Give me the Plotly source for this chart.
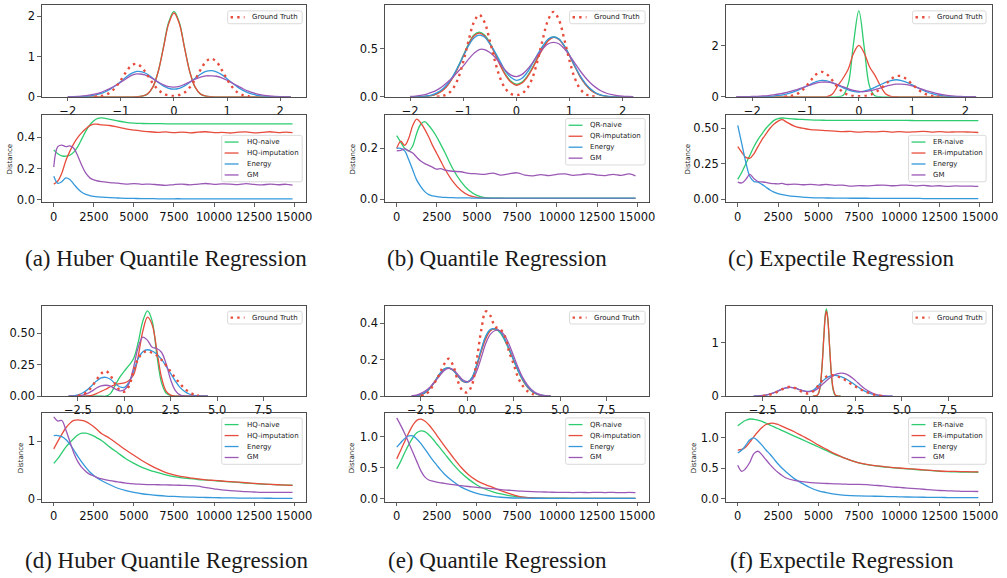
import numpy as np
import plotly.graph_objects as go

W, H = 1007, 578
GREEN, RED, BLUE, PURPLE = "#2ecc71", "#e74c3c", "#3498db", "#9b59b6"
N = None

# ---------------- density grids ----------------
X_TOP = np.round(np.arange(-2.0, 2.21, 0.1), 2)      # panels a, b
X_TOP_C = np.round(np.arange(-2.3, 2.21, 0.1), 2)    # panel c
X_BOT = np.round(np.arange(-3.0, 4.51, 0.25), 2)     # panels d, e, f
F_PEAK_X = [0.2, 0.4, 0.5, 0.6, 0.7, 0.8, 0.87, 0.93, 1.0, 1.1, 1.2, 1.3, 1.4, 1.5, 1.7]

# ---------------- (a) densities ----------------
A_GT = [N, N, N, N, N, 0.004, 0.015, 0.044, 0.11, 0.235, 0.415, 0.62, 0.776, 0.817, 0.72, 0.54,
        0.34, 0.18, 0.08, 0.032, 0.022, 0.045, 0.108, 0.237, 0.435, 0.67, 0.87, 0.95, 0.87, 0.67,
        0.435, 0.237, 0.108, 0.042, 0.014, 0.004, N, N, N, N, N, N, N]
A_NAIVE = [0]*13 + [0.002, 0.014, 0.067, 0.23, 0.61, 1.22, 1.85, 2.12, 1.85, 1.22, 0.61, 0.23,
                    0.067, 0.014, 0.002] + [0]*15
A_IMP = [0]*13 + [0.003, 0.016, 0.072, 0.24, 0.61, 1.2, 1.81, 2.08, 1.82, 1.21, 0.61, 0.24,
                  0.07, 0.016, 0.003] + [0]*15
A_EN = [0, 0.002, 0.005, 0.01, 0.02, 0.04, 0.07, 0.12, 0.19, 0.28, 0.38, 0.49, 0.58, 0.63, 0.62,
        0.56, 0.46, 0.36, 0.27, 0.21, 0.19, 0.21, 0.27, 0.36, 0.46, 0.56, 0.63, 0.65, 0.62, 0.55,
        0.45, 0.34, 0.24, 0.16, 0.1, 0.06, 0.03, 0.015, 0.007, 0.003, 0.001, 0, 0]
A_GM = [0.003, 0.006, 0.012, 0.022, 0.04, 0.065, 0.1, 0.15, 0.21, 0.28, 0.36, 0.45, 0.53, 0.57,
        0.56, 0.52, 0.45, 0.37, 0.3, 0.25, 0.24, 0.26, 0.31, 0.37, 0.44, 0.49, 0.52, 0.52, 0.51,
        0.47, 0.41, 0.34, 0.27, 0.2, 0.14, 0.095, 0.06, 0.036, 0.02, 0.011, 0.006, 0.003, 0]

# ---------------- (b) densities ----------------
B_GT = [N, N, N, N, N, 0.002, 0.008, 0.028, 0.08, 0.187, 0.363, 0.582, 0.773, 0.85, 0.773, 0.582,
        0.363, 0.187, 0.08, 0.03, 0.017, 0.032, 0.085, 0.194, 0.376, 0.603, 0.8, 0.88, 0.8, 0.603,
        0.376, 0.194, 0.083, 0.029, 0.009, 0.002, N, N, N, N, N, N, N]
B_NAIVE = [0, 0, 0.002, 0.005, 0.012, 0.03, 0.065, 0.12, 0.2, 0.31, 0.43, 0.55, 0.64, 0.67, 0.64,
           0.56, 0.45, 0.33, 0.23, 0.16, 0.13, 0.15, 0.21, 0.3, 0.41, 0.51, 0.59, 0.62, 0.6, 0.53,
           0.43, 0.32, 0.21, 0.13, 0.07, 0.035, 0.015, 0.005, 0.002, 0, 0, 0, 0]
B_IMP = [0, 0, 0.002, 0.005, 0.012, 0.03, 0.06, 0.115, 0.195, 0.3, 0.42, 0.54, 0.63, 0.66, 0.63,
         0.55, 0.44, 0.32, 0.22, 0.15, 0.12, 0.14, 0.2, 0.29, 0.4, 0.5, 0.58, 0.615, 0.595, 0.525,
         0.425, 0.315, 0.21, 0.13, 0.07, 0.034, 0.014, 0.005, 0.002, 0, 0, 0, 0]
B_EN = [0, 0.001, 0.003, 0.008, 0.018, 0.04, 0.075, 0.13, 0.21, 0.31, 0.42, 0.53, 0.61, 0.64, 0.62,
        0.55, 0.46, 0.36, 0.26, 0.2, 0.17, 0.19, 0.25, 0.34, 0.44, 0.53, 0.6, 0.62, 0.6, 0.53,
        0.43, 0.32, 0.22, 0.14, 0.08, 0.04, 0.018, 0.007, 0.002, 0, 0, 0, 0]
B_GM = [0.003, 0.007, 0.014, 0.026, 0.045, 0.07, 0.105, 0.15, 0.2, 0.26, 0.32, 0.39, 0.45, 0.49,
        0.49, 0.46, 0.41, 0.34, 0.27, 0.225, 0.21, 0.23, 0.28, 0.35, 0.43, 0.5, 0.55, 0.565, 0.55,
        0.5, 0.43, 0.35, 0.27, 0.2, 0.14, 0.095, 0.06, 0.037, 0.022, 0.012, 0.006, 0.003, 0.001]

# ---------------- (c) densities ----------------
C_GT = [N]*9 + [0.006, 0.024, 0.074, 0.188, 0.386, 0.649, 0.884, 0.98, 0.884, 0.649, 0.386, 0.188,
                0.076, 0.032, 0.02, 0.03, 0.073, 0.162, 0.308, 0.497, 0.685, 0.81, 0.81, 0.685,
                0.497, 0.308, 0.162, 0.073, 0.028, 0.011] + [N]*7
C_NAIVE = [0]*19 + [0.003, 0.05, 0.5, 2.1, 3.38, 1.95, 0.42, 0.04, 0.002] + [0]*18
C_IMP = [0]*17 + [0.005, 0.1, 0.42, 0.72, 1.08, 1.7, 2.02, 1.72, 1.18, 0.85, 0.45, 0.12, 0.02,
                  0.002] + [0]*15
C_EN = [0, 0, 0.001, 0.002, 0.004, 0.008, 0.015, 0.03, 0.055, 0.09, 0.14, 0.21, 0.3, 0.4, 0.5, 0.6,
        0.645, 0.63, 0.56, 0.46, 0.36, 0.27, 0.21, 0.19, 0.22, 0.28, 0.37, 0.47, 0.57, 0.64, 0.67,
        0.64, 0.57, 0.47, 0.36, 0.26, 0.17, 0.11, 0.065, 0.035, 0.018, 0.008, 0.004, 0.002, 0.001, 0]
C_GM = [0.002, 0.004, 0.007, 0.012, 0.02, 0.033, 0.05, 0.075, 0.11, 0.15, 0.2, 0.26, 0.33, 0.4,
        0.47, 0.54, 0.575, 0.58, 0.55, 0.48, 0.4, 0.32, 0.25, 0.21, 0.2, 0.23, 0.28, 0.34, 0.41,
        0.46, 0.495, 0.5, 0.48, 0.43, 0.36, 0.29, 0.22, 0.16, 0.11, 0.075, 0.048, 0.03, 0.018,
        0.01, 0.005, 0.002]

# ---------------- (d) densities ----------------
D_GT = [N, N, 0.003, 0.012, 0.035, 0.075, 0.13, 0.18, 0.2, 0.165, 0.1, 0.05, 0.035, 0.08, 0.2, 0.3,
        0.345, 0.36, 0.345, 0.325, 0.29, 0.245, 0.195, 0.145, 0.1, 0.06, 0.032, 0.014, 0.005, N, N]
D_NAIVE = [0]*8 + [0.0, 0.02, 0.085, 0.15, 0.2, 0.245, 0.3, 0.43, 0.6, 0.68, 0.6, 0.33, 0.11,
                   0.025, 0.004, 0] + [0]*7
D_IMP = [0, 0, 0, 0, 0.002, 0.007, 0.02, 0.038, 0.055, 0.075, 0.09, 0.1, 0.105, 0.125, 0.17, 0.32,
         0.52, 0.63, 0.57, 0.37, 0.15, 0.04, 0.008, 0, 0, 0, 0, 0, 0, 0, 0]
D_EN = [0, 0.002, 0.01, 0.025, 0.05, 0.085, 0.12, 0.145, 0.15, 0.135, 0.1, 0.075, 0.07, 0.11, 0.2,
        0.3, 0.355, 0.37, 0.36, 0.335, 0.295, 0.24, 0.18, 0.12, 0.07, 0.037, 0.017, 0.006, 0.002,
        0, 0]
D_GM = [0, 0, 0.002, 0.008, 0.02, 0.04, 0.065, 0.082, 0.087, 0.08, 0.058, 0.042, 0.05, 0.1, 0.23,
        0.39, 0.47, 0.445, 0.39, 0.38, 0.35, 0.26, 0.13, 0.045, 0.01, 0, 0, 0, 0, 0, 0]

# ---------------- (e) densities ----------------
E_GT = [N, N, 0.002, 0.01, 0.035, 0.075, 0.12, 0.175, 0.205, 0.165, 0.08, 0.03, 0.02, 0.06, 0.19,
        0.36, 0.465, 0.44, 0.38, 0.37, 0.335, 0.245, 0.175, 0.1, 0.055, 0.027, 0.012, 0.004, N, N, N]
E_NAIVE = [0, 0.002, 0.008, 0.02, 0.045, 0.08, 0.12, 0.148, 0.155, 0.14, 0.11, 0.082, 0.076, 0.1,
           0.165, 0.25, 0.325, 0.362, 0.367, 0.35, 0.31, 0.255, 0.195, 0.135, 0.085, 0.048, 0.024,
           0.011, 0.004, 0.001, 0]
E_IMP = [0, 0.002, 0.008, 0.02, 0.044, 0.078, 0.118, 0.146, 0.154, 0.14, 0.11, 0.082, 0.075, 0.098,
         0.16, 0.243, 0.315, 0.358, 0.37, 0.357, 0.318, 0.262, 0.2, 0.14, 0.088, 0.05, 0.025, 0.011,
         0.004, 0.001, 0]
E_EN = [0, 0.002, 0.009, 0.022, 0.046, 0.08, 0.12, 0.148, 0.155, 0.141, 0.111, 0.083, 0.076, 0.1,
        0.168, 0.255, 0.33, 0.366, 0.37, 0.355, 0.315, 0.26, 0.2, 0.14, 0.09, 0.052, 0.027, 0.012,
        0.005, 0.002, 0]
E_GM = [0.002, 0.006, 0.015, 0.03, 0.05, 0.08, 0.11, 0.14, 0.152, 0.145, 0.118, 0.09, 0.08, 0.09,
        0.135, 0.21, 0.29, 0.34, 0.36, 0.36, 0.335, 0.285, 0.22, 0.155, 0.1, 0.06, 0.032, 0.015,
        0.006, 0.002, 0]

# ---------------- (f) densities ----------------
F_GT = [N, N, 0.004, 0.015, 0.04, 0.075, 0.12, 0.16, 0.175, 0.15, 0.1, 0.06, 0.05, 0.1, 0.2, 0.31,
        0.38, 0.39, 0.37, 0.34, 0.29, 0.23, 0.18, 0.13, 0.09, 0.055, 0.028, 0.01, 0.003, N, N]
F_NAIVE = [0, 0.007, 0.044, 0.19, 0.58, 1.17, 1.52, 1.63, 1.48, 0.93, 0.39, 0.11, 0.02, 0.003, 0]
F_IMP = [0, 0.01, 0.05, 0.2, 0.58, 1.14, 1.48, 1.59, 1.46, 0.95, 0.42, 0.13, 0.03, 0.005, 0]
F_EN = [0, 0.003, 0.01, 0.025, 0.05, 0.085, 0.125, 0.155, 0.165, 0.15, 0.12, 0.095, 0.09, 0.12, 0.2,
        0.29, 0.355, 0.385, 0.385, 0.36, 0.32, 0.265, 0.205, 0.145, 0.095, 0.055, 0.03, 0.014,
        0.006, 0.002, 0]
F_GM = [0.002, 0.005, 0.012, 0.028, 0.052, 0.085, 0.125, 0.155, 0.165, 0.15, 0.12, 0.095, 0.085,
        0.1, 0.15, 0.23, 0.31, 0.375, 0.415, 0.43, 0.41, 0.36, 0.29, 0.21, 0.14, 0.085, 0.045, 0.02,
        0.008, 0.002, 0]

# ---------------- distance curves (training iterations) ----------------
ITERS = [0, 250, 500, 750, 1000, 1250, 1500, 1750, 2000, 2250, 2500, 2750, 3000,
         3500, 4000, 4500, 5000, 5500, 6000, 6500, 7000, 7500, 8000, 8500, 9000, 9500, 10000,
         10500, 11000, 11500, 12000, 12500, 13000, 13500, 14000, 14500, 14900]

AD_NAIVE = [0.32, 0.295, 0.282, 0.279, 0.285, 0.305, 0.34, 0.39, 0.44, 0.48, 0.507, 0.522, 0.525,
            0.516, 0.505, 0.496, 0.491, 0.489, 0.488, 0.488] + [0.487]*17
AD_IMP = [0.10, 0.12, 0.17, 0.25, 0.31, 0.36, 0.40, 0.43, 0.455, 0.475, 0.485, 0.484, 0.48,
          0.476, 0.466, 0.455, 0.447, 0.44, 0.436, 0.432, 0.435, 0.43, 0.434, 0.429, 0.433, 0.436,
          0.43, 0.432, 0.428, 0.433, 0.435, 0.429, 0.432, 0.436, 0.43, 0.434, 0.43]
AD_EN = [0.15, 0.105, 0.115, 0.14, 0.13, 0.10, 0.07, 0.048, 0.034, 0.026, 0.021, 0.018, 0.016,
         0.013, 0.011, 0.009, 0.008, 0.007, 0.007, 0.006, 0.006, 0.006, 0.006] + [0.005]*14
AD_GM = [0.21, 0.34, 0.35, 0.34, 0.345, 0.33, 0.28, 0.22, 0.17, 0.14, 0.127, 0.12, 0.116,
         0.11, 0.106, 0.1, 0.103, 0.099, 0.1, 0.096, 0.092, 0.097, 0.1, 0.095, 0.1, 0.104, 0.098,
         0.101, 0.1, 0.097, 0.103, 0.098, 0.095, 0.1, 0.096, 0.099, 0.094]

BD_NAIVE = [0.25, 0.225, 0.2, 0.19, 0.21, 0.26, 0.295, 0.305, 0.29, 0.27, 0.245, 0.215, 0.185,
            0.12, 0.07, 0.035, 0.015, 0.006, 0.004, 0.004] + [0.003]*17
BD_IMP = [0.2, 0.228, 0.212, 0.24, 0.29, 0.315, 0.3, 0.275, 0.245, 0.21, 0.18, 0.15, 0.12,
          0.07, 0.035, 0.015, 0.007, 0.004] + [0.003]*19
BD_EN = [0.2, 0.2, 0.19, 0.155, 0.115, 0.075, 0.05, 0.03, 0.018, 0.013, 0.01, 0.008, 0.007,
         0.006, 0.005, 0.005] + [0.004]*21
BD_GM = [0.19, 0.192, 0.198, 0.19, 0.182, 0.165, 0.15, 0.14, 0.133, 0.125, 0.118, 0.12, 0.115,
         0.11, 0.108, 0.102, 0.1, 0.098, 0.103, 0.095, 0.1, 0.104, 0.095, 0.092, 0.097, 0.093,
         0.098, 0.1, 0.094, 0.097, 0.1, 0.095, 0.093, 0.098, 0.094, 0.1, 0.092]

CD_NAIVE = [0.14, 0.19, 0.25, 0.31, 0.37, 0.42, 0.46, 0.5, 0.53, 0.555, 0.567, 0.572, 0.57,
            0.565, 0.562, 0.559, 0.557, 0.556] + [0.555]*10 + [0.554]*9
CD_IMP = [0.37, 0.33, 0.295, 0.29, 0.32, 0.37, 0.42, 0.46, 0.5, 0.53, 0.55, 0.56, 0.545,
          0.515, 0.5, 0.49, 0.487, 0.483, 0.48, 0.476, 0.478, 0.472, 0.476, 0.474, 0.478, 0.473,
          0.476, 0.472, 0.475, 0.478, 0.473, 0.476, 0.472, 0.475, 0.474, 0.472, 0.47]
CD_EN = [0.52, 0.39, 0.26, 0.16, 0.125, 0.12, 0.105, 0.085, 0.065, 0.05, 0.04, 0.033, 0.028,
         0.02, 0.015, 0.012, 0.01, 0.009, 0.008, 0.008, 0.007, 0.007, 0.007] + [0.006]*6 + [0.005]*8
CD_GM = [0.12, 0.115, 0.14, 0.175, 0.145, 0.125, 0.122, 0.118, 0.112, 0.11, 0.108, 0.112, 0.104,
         0.107, 0.102, 0.105, 0.1, 0.104, 0.098, 0.1, 0.092, 0.096, 0.094, 0.098, 0.1, 0.095,
         0.098, 0.1, 0.094, 0.098, 0.092, 0.095, 0.09, 0.094, 0.092, 0.093, 0.09]

DD_NAIVE = [0.62, 0.7, 0.8, 0.9, 0.98, 1.05, 1.11, 1.14, 1.14, 1.12, 1.09, 1.05, 1.01,
            0.9, 0.8, 0.7, 0.62, 0.55, 0.5, 0.46, 0.42, 0.39, 0.37, 0.355, 0.34, 0.33, 0.32, 0.31,
            0.3, 0.29, 0.28, 0.27, 0.262, 0.256, 0.25, 0.245, 0.242]
DD_IMP = [0.87, 1.0, 1.12, 1.23, 1.31, 1.36, 1.37, 1.36, 1.34, 1.3, 1.25, 1.19, 1.13,
          1.05, 0.95, 0.85, 0.76, 0.67, 0.59, 0.52, 0.46, 0.42, 0.39, 0.37, 0.35, 0.335, 0.325,
          0.315, 0.305, 0.295, 0.285, 0.275, 0.265, 0.257, 0.25, 0.243, 0.238]
DD_EN = [1.1, 1.1, 1.08, 1.03, 0.95, 0.85, 0.74, 0.64, 0.55, 0.47, 0.41, 0.36, 0.32,
         0.25, 0.19, 0.15, 0.12, 0.095, 0.078, 0.065, 0.055, 0.048, 0.042, 0.037, 0.033, 0.03,
         0.027, 0.025, 0.023, 0.021, 0.02, 0.019, 0.018, 0.017, 0.016, 0.015, 0.015]
DD_GM = [1.42, 1.35, 1.36, 1.2, 1.0, 0.8, 0.65, 0.55, 0.48, 0.43, 0.4, 0.37, 0.35,
         0.32, 0.3, 0.28, 0.265, 0.258, 0.252, 0.25, 0.247, 0.245, 0.24, 0.235, 0.225, 0.2, 0.18,
         0.16, 0.15, 0.14, 0.13, 0.125, 0.12, 0.118, 0.12, 0.118, 0.12]

ED_NAIVE = [0.48, 0.6, 0.74, 0.87, 0.98, 1.06, 1.09, 1.08, 1.03, 0.96, 0.88, 0.8, 0.72,
            0.56, 0.42, 0.31, 0.22, 0.155, 0.11, 0.075, 0.05, 0.032, 0.02, 0.013, 0.009, 0.007,
            0.006, 0.006] + [0.005]*9
ED_IMP = [0.64, 0.78, 0.92, 1.06, 1.18, 1.26, 1.28, 1.25, 1.19, 1.11, 1.02, 0.93, 0.84,
          0.67, 0.51, 0.38, 0.29, 0.23, 0.18, 0.13, 0.085, 0.045, 0.02, 0.01, 0.007] + [0.005]*12
ED_EN = [0.83, 0.9, 0.97, 1.01, 1.01, 0.96, 0.89, 0.8, 0.71, 0.62, 0.54, 0.46, 0.39,
         0.28, 0.19, 0.13, 0.085, 0.055, 0.035, 0.022, 0.014, 0.01, 0.008, 0.006, 0.006] + [0.005]*12
ED_GM = [1.3, 1.18, 1.05, 0.9, 0.75, 0.6, 0.45, 0.35, 0.3, 0.28, 0.265, 0.255, 0.245,
         0.225, 0.21, 0.195, 0.18, 0.17, 0.16, 0.145, 0.135, 0.125, 0.118, 0.112, 0.108, 0.105,
         0.1, 0.102, 0.098, 0.1, 0.097, 0.101, 0.098, 0.1, 0.096, 0.1, 0.095]

FD_NAIVE = [1.2, 1.25, 1.29, 1.31, 1.305, 1.29, 1.27, 1.24, 1.21, 1.18, 1.15, 1.12, 1.09,
            1.03, 0.97, 0.91, 0.85, 0.79, 0.73, 0.68, 0.63, 0.59, 0.56, 0.54, 0.525, 0.51, 0.5,
            0.49, 0.48, 0.47, 0.46, 0.45, 0.445, 0.44, 0.438, 0.436, 0.435]
FD_IMP = [0.8, 0.81, 0.85, 0.93, 1.02, 1.1, 1.17, 1.22, 1.24, 1.24, 1.22, 1.19, 1.16,
          1.1, 1.03, 0.96, 0.88, 0.81, 0.74, 0.68, 0.63, 0.59, 0.565, 0.545, 0.53, 0.515, 0.505,
          0.495, 0.485, 0.475, 0.465, 0.455, 0.45, 0.448, 0.445, 0.442, 0.44]
FD_EN = [0.75, 0.8, 0.88, 0.97, 1.0, 0.95, 0.88, 0.8, 0.73, 0.65, 0.57, 0.5, 0.44,
         0.33, 0.25, 0.18, 0.13, 0.1, 0.075, 0.06, 0.052, 0.047, 0.043, 0.04, 0.037, 0.034, 0.031,
         0.028, 0.026, 0.024, 0.022, 0.02, 0.019, 0.018, 0.017, 0.016, 0.016]
FD_GM = [0.55, 0.45, 0.5, 0.6, 0.74, 0.78, 0.72, 0.64, 0.56, 0.49, 0.43, 0.38, 0.34,
         0.3, 0.28, 0.265, 0.255, 0.25, 0.245, 0.24, 0.235, 0.235, 0.23, 0.22, 0.21, 0.195, 0.185,
         0.175, 0.165, 0.155, 0.145, 0.135, 0.13, 0.125, 0.12, 0.12, 0.118]

# ---------------- texts ----------------
CAPTIONS = ["(a) Huber Quantile Regression", "(b) Quantile Regression", "(c) Expectile Regression",
            "(d) Huber Quantile Regression", "(e) Quantile Regression", "(f) Expectile Regression"]
LEG_NAMES = [["HQ-naive", "HQ-imputation", "Energy", "GM"],
             ["QR-naive", "QR-imputation", "Energy", "GM"],
             ["ER-naive", "ER-imputation", "Energy", "GM"]]
DIST_TICKS = [0, 2500, 5000, 7500, 10000, 12500, 15000]
TOP_XT = ([-2, -1, 0, 1, 2], ["\u22122", "\u22121", "0", "1", "2"])
BOT_XT = ([-2.5, 0, 2.5, 5, 7.5], ["\u22122.5", "0.0", "2.5", "5.0", "7.5"])
DIST_XT = (DIST_TICKS, [str(v) for v in DIST_TICKS])

# ---------------- layout geometry (pixels) ----------------
COLS = [(42, 308), (387, 653), (730, 998)]
ROWS = [dict(dens=(5, 98), dist=(116, 205), cap=262),
        dict(dens=(310, 401), dist=(418, 508), cap=567)]
CAP_X = [167, 500, 847]
DIST_TITLE_X = [[10, 355, 692], [22, 355, 699]]
DIST_LEG = [[(223, 304, 137), (569, 649, 120), (914, 992, 137)],
            [(223, 304, 423), (569, 649, 423), (914, 992, 423)]]
GT_LEG = [[(229, 304, 11), (573, 649, 11), (918, 992, 11)],
          [(229, 304, 315), (573, 649, 315), (918, 992, 315)]]

dens_specs = [
    dict(xr=[-2.49, 2.49], yr=[0, 2.28], xt=TOP_XT, yt=([0, 1, 2], ["0", "1", "2"]),
         s=[(X_TOP, A_NAIVE, GREEN), (X_TOP, A_IMP, RED), (X_TOP, A_EN, BLUE), (X_TOP, A_GM, PURPLE)],
         gt=(X_TOP, A_GT)),
    dict(xr=[-2.48, 2.5], yr=[0, 0.952], xt=TOP_XT, yt=([0, 0.5], ["0.0", "0.5"]),
         s=[(X_TOP, B_NAIVE, GREEN), (X_TOP, B_IMP, RED), (X_TOP, B_EN, BLUE), (X_TOP, B_GM, PURPLE)],
         gt=(X_TOP, B_GT)),
    dict(xr=[-2.5, 2.5], yr=[0, 3.61], xt=TOP_XT, yt=([0, 2], ["0", "2"]),
         s=[(X_TOP_C, C_NAIVE, GREEN), (X_TOP_C, C_IMP, RED), (X_TOP_C, C_EN, BLUE), (X_TOP_C, C_GM, PURPLE)],
         gt=(X_TOP_C, C_GT)),
    dict(xr=[-4.45, 9.8], yr=[0, 0.717], xt=BOT_XT, yt=([0, 0.25, 0.5], ["0.00", "0.25", "0.50"]),
         s=[(X_BOT, D_NAIVE, GREEN), (X_BOT, D_IMP, RED), (X_BOT, D_EN, BLUE), (X_BOT, D_GM, PURPLE)],
         gt=(X_BOT, D_GT)),
    dict(xr=[-4.45, 9.8], yr=[0, 0.493], xt=BOT_XT, yt=([0, 0.2, 0.4], ["0.0", "0.2", "0.4"]),
         s=[(X_BOT, E_NAIVE, GREEN), (X_BOT, E_IMP, RED), (X_BOT, E_EN, BLUE), (X_BOT, E_GM, PURPLE)],
         gt=(X_BOT, E_GT)),
    dict(xr=[-4.5, 9.86], yr=[0, 1.68], xt=BOT_XT, yt=([0, 1], ["0", "1"]),
         s=[(F_PEAK_X, F_NAIVE, GREEN), (F_PEAK_X, F_IMP, RED), (X_BOT, F_EN, BLUE), (X_BOT, F_GM, PURPLE)],
         gt=(X_BOT, F_GT)),
]
dist_specs = [
    dict(yr=[-0.018, 0.546], yt=([0, 0.2, 0.4], ["0.0", "0.2", "0.4"]), s=[AD_NAIVE, AD_IMP, AD_EN, AD_GM]),
    dict(yr=[-0.013, 0.333], yt=([0, 0.2], ["0.0", "0.2"]), s=[BD_NAIVE, BD_IMP, BD_EN, BD_GM]),
    dict(yr=[-0.023, 0.596], yt=([0, 0.25, 0.5], ["0.00", "0.25", "0.50"]), s=[CD_NAIVE, CD_IMP, CD_EN, CD_GM]),
    dict(yr=[-0.045, 1.49], yt=([0, 1], ["0", "1"]), s=[DD_NAIVE, DD_IMP, DD_EN, DD_GM]),
    dict(yr=[-0.052, 1.38], yt=([0, 0.5, 1.0], ["0.0", "0.5", "1.0"]), s=[ED_NAIVE, ED_IMP, ED_EN, ED_GM]),
    dict(yr=[-0.052, 1.41], yt=([0, 0.5, 1.0], ["0.0", "0.5", "1.0"]), s=[FD_NAIVE, FD_IMP, FD_EN, FD_GM]),
]
SERIES_COLORS = [GREEN, RED, BLUE, PURPLE]

for spec in dens_specs:
    for xs, ys, _ in spec["s"]:
        assert len(xs) == len(ys), (len(xs), len(ys))
    assert len(spec["gt"][0]) == len(spec["gt"][1])
for spec in dist_specs:
    for ys in spec["s"]:
        assert len(ys) == len(ITERS), len(ys)

# ---------------- build figure ----------------
def fx(p):
    return p / W


def fy(p):
    return 1 - p / H


AXIS_STYLE = dict(showline=True, linecolor="#3a3a3a", linewidth=0.9, mirror=True,
                  showgrid=False, zeroline=False, ticks="outside", ticklen=3.5, tickwidth=0.8,
                  tickcolor="#3a3a3a", tickfont=dict(family="DejaVu Sans", size=11.5, color="#111111"),
                  fixedrange=True)
LINE_W = 1.3
fig = go.Figure()
layout_axes = {}
shapes, annotations = [], []
k = 0


def add_axes(x0, x1, y0, y1, xr, yr, xt, yt):
    global k
    k += 1
    sfx = "" if k == 1 else str(k)
    layout_axes["xaxis" + sfx] = dict(domain=[fx(x0), fx(x1)], range=xr, anchor="y" + sfx,
                                      tickvals=xt[0], ticktext=xt[1], **AXIS_STYLE)
    layout_axes["yaxis" + sfx] = dict(domain=[fy(y1), fy(y0)], range=yr, anchor="x" + sfx,
                                      tickvals=yt[0], ticktext=yt[1], **AXIS_STYLE)
    return "x" + sfx, "y" + sfx


def add_line(x0, y0, x1, y1, color, width, dash="solid"):
    shapes.append(dict(type="line", xref="paper", yref="paper", x0=fx(x0), x1=fx(x1),
                       y0=fy(y0), y1=fy(y1), line=dict(color=color, width=width, dash=dash)))


def add_box(x0, x1, y0, y1, r=2.0):
    # rounded rectangle like a matplotlib legend frame
    pts = [
        f"M {fx(x0 + r)},{fy(y0)}", f"L {fx(x1 - r)},{fy(y0)}",
        f"Q {fx(x1)},{fy(y0)} {fx(x1)},{fy(y0 + r)}", f"L {fx(x1)},{fy(y1 - r)}",
        f"Q {fx(x1)},{fy(y1)} {fx(x1 - r)},{fy(y1)}", f"L {fx(x0 + r)},{fy(y1)}",
        f"Q {fx(x0)},{fy(y1)} {fx(x0)},{fy(y1 - r)}", f"L {fx(x0)},{fy(y0 + r)}",
        f"Q {fx(x0)},{fy(y0)} {fx(x0 + r)},{fy(y0)}", "Z"]
    shapes.append(dict(type="path", xref="paper", yref="paper", path=" ".join(pts),
                       line=dict(color="#d0d0d0", width=0.8), fillcolor="rgba(255,255,255,0.85)"))


def add_text(x, y, text, size=7, xanchor="left", angle=0, family="DejaVu Sans"):
    annotations.append(dict(x=fx(x), y=fy(y), xref="paper", yref="paper", text=text,
                            showarrow=False, xanchor=xanchor, yanchor="middle", textangle=angle,
                            font=dict(family=family, size=size, color="#1a1a1a")))


GT_DASH = "2.4px,4.2px"
for r, row in enumerate(ROWS):
    for c, (cx0, cx1) in enumerate(COLS):
        idx = r * 3 + c
        ds = dens_specs[idx]
        xa, ya = add_axes(cx0, cx1, row["dens"][0], row["dens"][1], ds["xr"], ds["yr"], ds["xt"], ds["yt"])
        for xs, ys, col in ds["s"]:
            fig.add_trace(go.Scatter(x=list(xs), y=ys, xaxis=xa, yaxis=ya, mode="lines",
                                     line=dict(color=col, width=LINE_W, shape="spline"),
                                     hoverinfo="skip", showlegend=False))
        fig.add_trace(go.Scatter(x=list(ds["gt"][0]), y=ds["gt"][1], xaxis=xa, yaxis=ya, mode="lines",
                                 line=dict(color=RED, width=2.4, dash=GT_DASH, shape="spline"),
                                 connectgaps=False, hoverinfo="skip", showlegend=False))
        # ground-truth legend
        lx0, lx1, ly0 = GT_LEG[r][c]
        add_box(lx0, lx1, ly0, ly0 + 13)
        add_line(lx0 + 3, ly0 + 6.5, lx0 + 17, ly0 + 6.5, RED, 2.4, GT_DASH)
        add_text(lx0 + 23, ly0 + 6.5, "Ground Truth")

        dd = dist_specs[idx]
        xa, ya = add_axes(cx0, cx1, row["dist"][0], row["dist"][1], [-750, 15750], dd["yr"], DIST_XT, dd["yt"])
        for ys, col in zip(dd["s"], SERIES_COLORS):
            fig.add_trace(go.Scatter(x=ITERS, y=ys, xaxis=xa, yaxis=ya, mode="lines",
                                     line=dict(color=col, width=LINE_W, shape="spline"),
                                     hoverinfo="skip", showlegend=False))
        # distance legend
        lx0, lx1, ly0 = DIST_LEG[r][c]
        add_box(lx0, lx1, ly0, ly0 + 47)
        for j, (name, col) in enumerate(zip(LEG_NAMES[c], SERIES_COLORS)):
            yy = ly0 + 6.8 + j * 11.1
            add_line(lx0 + 3, yy, lx0 + 17, yy, col, LINE_W)
            add_text(lx0 + 23, yy, name)
        # y title
        add_text(DIST_TITLE_X[r][c], (row["dist"][0] + row["dist"][1]) / 2, "Distance",
                 size=7, xanchor="center", angle=-90)
        # caption
        add_text(CAP_X[c], row["cap"], CAPTIONS[idx], size=23, xanchor="center",
                 family="Liberation Serif, Times New Roman, serif")

fig.update_layout(width=W, height=H, margin=dict(l=0, r=0, t=0, b=0),
                  paper_bgcolor="white", plot_bgcolor="white",
                  font=dict(family="DejaVu Sans", color="#1a1a1a"),
                  shapes=shapes, annotations=annotations, **layout_axes)

fig.write_html("out.html", config={"displayModeBar": False, "staticPlot": True},
               post_script="document.body.style.margin='0px';")
